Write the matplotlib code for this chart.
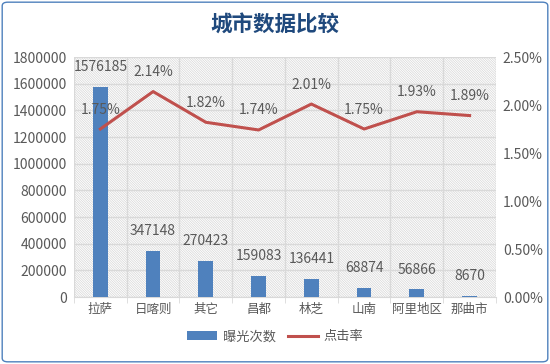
import numpy as np
import matplotlib.pyplot as plt
from matplotlib.patches import Rectangle, FancyBboxPatch, Patch
from matplotlib.lines import Line2D
from matplotlib.ticker import FuncFormatter, MultipleLocator

plt.rcParams['font.family'] = ['Noto Sans CJK SC', 'DejaVu Sans']
plt.rcParams['hatch.linewidth'] = 0.5

# data
cities = ['拉萨', '日喀则', '其它', '昌都', '林芝', '山南', '阿里地区', '那曲市']
exposures = [1576185, 347148, 270423, 159083, 136441, 68874, 56866, 8670]
ctr = [1.75, 2.14, 1.82, 1.74, 2.01, 1.75, 1.93, 1.89]

bar_color = '#4F81BD'
line_color = '#C0504D'
text_color = '#595959'
grid_color = '#D9D9D9'

fig = plt.figure(figsize=(5.5, 3.64), dpi=100)
fig.patches.append(FancyBboxPatch((0.004, 0.006), 0.992, 0.988, boxstyle='round,pad=0,rounding_size=0.01',
                                  transform=fig.transFigure, facecolor='white',
                                  edgecolor='#4F81BD', linewidth=1.0, zorder=-10))

ax = fig.add_axes([0.1345, 0.184, 0.7673, 0.6594])
ax.set_facecolor('none')
x = np.arange(len(cities))

# hatched background
ax.add_patch(Rectangle((0, 0), 1, 1, transform=ax.transAxes, facecolor='white',
                       edgecolor='#D6D6D6', hatch='\\' * 14, linewidth=0, zorder=0))

ax.bar(x, exposures, width=0.28, color=bar_color, zorder=3)
for xi, v in zip(x, exposures):
    ax.annotate(str(v), (xi, v), xytext=(0, 9), textcoords='offset points',
                ha='center', va='bottom', fontsize=10, color=text_color, zorder=5)

ax.set_xlim(-0.5, len(cities) - 0.5)
ax.set_ylim(0, 1800000)
ax.yaxis.set_major_locator(MultipleLocator(200000))
ax.yaxis.set_major_formatter(FuncFormatter(lambda v, p: f'{int(v)}'))
ax.set_xticks(x)
ax.set_xticklabels(cities, fontsize=9, color=text_color)
ax.set_xticks(np.arange(-0.5, len(cities), 1), minor=True)
ax.tick_params(axis='x', which='major', length=0, pad=4)
ax.tick_params(axis='x', which='minor', length=4, color=grid_color)
ax.tick_params(axis='y', length=0, labelsize=10, labelcolor=text_color, pad=5)
ax.grid(axis='y', color=grid_color, linewidth=1, zorder=1)
ax.grid(axis='x', which='minor', color=grid_color, linewidth=1, zorder=1)
ax.set_axisbelow(True)
for s in ['top', 'right', 'left']:
    ax.spines[s].set_visible(False)
ax.spines['bottom'].set_color(grid_color)

ax2 = ax.twinx()
ax2.plot(x, ctr, color=line_color, linewidth=2.2, zorder=4)
for xi, v in zip(x, ctr):
    ax2.annotate(f'{v:.2f}%', (xi, v), xytext=(0, 9), textcoords='offset points',
                 ha='center', va='bottom', fontsize=10, color=text_color)
ax2.set_ylim(0, 2.5)
ax2.yaxis.set_major_locator(MultipleLocator(0.5))
ax2.yaxis.set_major_formatter(FuncFormatter(lambda v, p: f'{v:.2f}%'))
ax2.tick_params(axis='y', length=0, labelsize=10, labelcolor=text_color, pad=5)
for s in ax2.spines.values():
    s.set_visible(False)

fig.text(0.5, 0.93, '城市数据比较', ha='center', va='center', fontsize=15.5,
         fontweight='bold', color='#1F497D')

handles = [Patch(facecolor=bar_color, edgecolor='none'),
           Line2D([0], [0], color=line_color, linewidth=2.2)]
fig.legend(handles, ['曝光次数', '点击率'], loc='center', bbox_to_anchor=(0.5, 0.075),
           ncol=2, frameon=False, fontsize=9.5, labelcolor=text_color,
           handlelength=2.3, handleheight=0.6, columnspacing=0.9, handletextpad=0.4)

fig.savefig('out.png', dpi=100)
